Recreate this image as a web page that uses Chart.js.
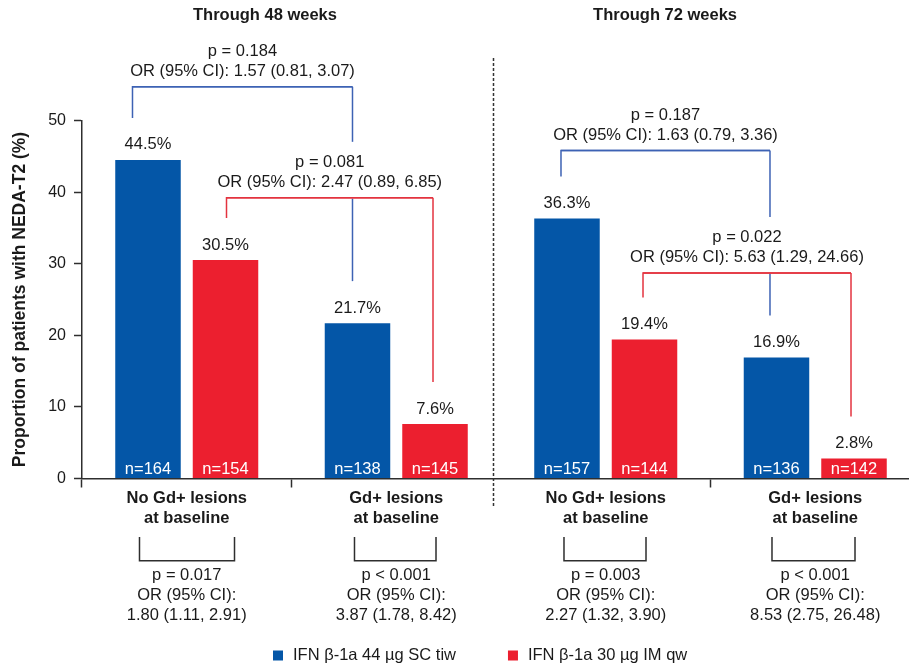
<!DOCTYPE html>
<html>
<head>
<meta charset="utf-8">
<script src="https://cdn.jsdelivr.net/npm/chart.js@4/dist/chart.umd.min.js"></script>
<style>
  html, body { margin: 0; padding: 0; background: #fff; }
  #c { display: block; }
</style>
</head>
<body>
<canvas id="c" width="909" height="667"></canvas>
<script>
// ---- Data ----
const groups = [
  ['No Gd+ lesions', 'at baseline'],
  ['Gd+ lesions', 'at baseline'],
  ['No Gd+ lesions', 'at baseline'],
  ['Gd+ lesions', 'at baseline']
];
const periods = ['Through 48 weeks', 'Through 72 weeks'];
const treatments = ['IFN β-1a 44 µg SC tiw', 'IFN β-1a 30 µg IM qw'];
const sc44Values = [44.5, 21.7, 36.3, 16.9];
const im30Values = [30.5, 7.6, 19.4, 2.8];
const sc44N = [164, 138, 157, 136];
const im30N = [154, 145, 144, 142];
const yTicks = [0, 10, 20, 30, 40, 50];

// SC vs IM within each baseline group
const withinP = ['p = 0.017', 'p < 0.001', 'p = 0.003', 'p < 0.001'];
const withinOR = ['1.80 (1.11, 2.91)', '3.87 (1.78, 8.42)', '2.27 (1.32, 3.90)', '8.53 (2.75, 26.48)'];

// No Gd+ vs Gd+ for each treatment and period
const acrossP = ['p = 0.184', 'p = 0.081', 'p = 0.187', 'p = 0.022'];
const acrossOR = ['OR (95% CI): 1.57 (0.81, 3.07)', 'OR (95% CI): 2.47 (0.89, 6.85)',
                  'OR (95% CI): 1.63 (0.79, 3.36)', 'OR (95% CI): 5.63 (1.29, 24.66)'];

// ---- Styling / layout ----
const FONT = '"Liberation Sans", Arial, Helvetica, sans-serif';
const INK = '#1a1a1a';
const AXIS = '#2e2e2e';
const BLUE = '#0456a7';
const RED = '#ec1f2f';
const BLUE_LINE = '#3d62b4';
const RED_LINE = '#e3333f';

// bracket definitions: dataset, from group, to group, level (y units), leg x nudges (px)
const acrossLayout = [
  { ds: 0, from: 0, to: 1, level: 54.7, dx: [-15.5, -5] },
  { ds: 1, from: 0, to: 1, level: 39.2, dx: [1, -2] },
  { ds: 0, from: 2, to: 3, level: 45.8, dx: [-6, -6.5] },
  { ds: 1, from: 2, to: 3, level: 28.7, dx: [-1.5, -3] }
];
const withinLegExt = [[8.5, 9], [3, 1], [3, 1.5], [4.5, 1]];
const periodTitleX = [1.3735, 3.283];
const dividerX = 2.462;
const LEG_GAP = 42;      // space between a bracket leg and its bar top
const TEXT_BLOCK = 56;   // height reserved above a bracket for its two text lines

function stroke(ctx, pts, color, w) {
  ctx.beginPath();
  ctx.moveTo(pts[0][0], pts[0][1]);
  for (let i = 1; i < pts.length; i++) ctx.lineTo(pts[i][0], pts[i][1]);
  ctx.strokeStyle = color;
  ctx.lineWidth = w;
  ctx.stroke();
}

const annotate = {
  id: 'annotate',
  afterDraw(chart) {
    const { ctx, chartArea } = chart;
    const xs = chart.scales.x, ys = chart.scales.y;
    const metas = [chart.getDatasetMeta(0), chart.getDatasetMeta(1)];
    ctx.save();
    ctx.textAlign = 'center';
    ctx.textBaseline = 'middle';

    // value labels and sample sizes
    chart.data.datasets.forEach((ds, d) => {
      metas[d].data.forEach((bar, i) => {
        ctx.font = `16.5px ${FONT}`;
        ctx.fillStyle = INK;
        ctx.fillText(ds.data[i].y.toFixed(1) + '%', bar.x, bar.y - 15);
        ctx.fillStyle = '#ffffff';
        ctx.fillText('n=' + ds.counts[i], bar.x, chartArea.bottom - 9.5);
      });
    });

    // period titles
    ctx.font = `bold 16.5px ${FONT}`;
    ctx.fillStyle = INK;
    periods.forEach((t, k) => ctx.fillText(t, xs.getPixelForValue(periodTitleX[k]), 15));

    // dashed divider between periods
    ctx.save();
    ctx.setLineDash([3, 2]);
    const dx = Math.round(xs.getPixelForValue(dividerX)) + 0.5;
    stroke(ctx, [[dx, 58], [dx, 507]], '#333', 1.5);
    ctx.restore();

    // across-group brackets
    const geo = acrossLayout.map((b) => {
      const meta = metas[b.ds];
      const a = meta.data[b.from], c = meta.data[b.to];
      return {
        b, a, c,
        yl: ys.getPixelForValue(b.level),
        x1: a.x + b.dx[0],
        x2: c.x + b.dx[1]
      };
    });
    geo.forEach((g, k) => {
      const col = g.b.ds === 0 ? BLUE_LINE : RED_LINE;
      stroke(ctx, [[g.x1, g.a.y - LEG_GAP], [g.x1, g.yl], [g.x2, g.yl]], col, 1.5);
      // right leg, interrupted where a lower bracket's text block crosses it
      const cut = geo.find((o, j) => j !== k && o.yl > g.yl && g.x2 > o.x1 && g.x2 < o.x2);
      const bottom = g.c.y - LEG_GAP;
      if (cut) {
        stroke(ctx, [[g.x2, g.yl], [g.x2, cut.yl - TEXT_BLOCK]], col, 1.5);
        stroke(ctx, [[g.x2, cut.yl + 0.75], [g.x2, bottom]], col, 1.5);
      } else {
        stroke(ctx, [[g.x2, g.yl], [g.x2, bottom]], col, 1.5);
      }
    });
    // redraw horizontals on top so crossings look clean
    geo.forEach((g) => {
      const col = g.b.ds === 0 ? BLUE_LINE : RED_LINE;
      stroke(ctx, [[g.x1, g.yl], [g.x2, g.yl]], col, 1.5);
    });
    geo.forEach((g, k) => {
      const cx = (g.x1 + g.x2) / 2;
      ctx.font = `16.5px ${FONT}`;
      ctx.fillStyle = INK;
      ctx.fillText(acrossP[k], cx, g.yl - 35.5);
      ctx.fillText(acrossOR[k], cx, g.yl - 15.5);
    });

    // within-group brackets below the axis
    const b0 = chartArea.bottom;
    groups.forEach((grp, i) => {
      const xl = metas[0].data[i].x - withinLegExt[i][0];
      const xr = metas[1].data[i].x + withinLegExt[i][1];
      stroke(ctx, [[xl, b0 + 58.5], [xl, b0 + 82.2], [xr, b0 + 82.2], [xr, b0 + 58.5]], AXIS, 1.5);
      const cx = xs.getPixelForValue(i + 1);
      ctx.font = `16.5px ${FONT}`;
      ctx.fillStyle = INK;
      ctx.fillText(withinP[i], cx, b0 + 96.5);
      ctx.fillText('OR (95% CI):', cx, b0 + 116.5);
      ctx.fillText(withinOR[i], cx, b0 + 136.5);
    });

    // legend
    ctx.textAlign = 'left';
    ctx.font = `16.5px ${FONT}`;
    let lx = 273;
    chart.data.datasets.forEach((ds) => {
      ctx.fillStyle = ds.backgroundColor;
      ctx.fillRect(lx, 650.5, 10, 10);
      ctx.fillStyle = INK;
      ctx.fillText(ds.label, lx + 20, 655.5);
      lx += 20 + ctx.measureText(ds.label).width + 52;
    });
    ctx.restore();
  }
};

new Chart(document.getElementById('c'), {
  type: 'bar',
  data: {
    datasets: [
      {
        label: treatments[0],
        data: sc44Values.map((v, i) => ({ x: i + 1, y: v })),
        counts: sc44N,
        backgroundColor: BLUE,
        categoryPercentage: 0.74,
        barPercentage: 0.845
      },
      {
        label: treatments[1],
        data: im30Values.map((v, i) => ({ x: i + 1, y: v })),
        counts: im30N,
        backgroundColor: RED,
        categoryPercentage: 0.74,
        barPercentage: 0.845
      }
    ]
  },
  options: {
    responsive: false,
    devicePixelRatio: 1,
    animation: false,
    layout: { padding: { top: 120.5, left: 0, right: 0, bottom: 0 } },
    plugins: { legend: { display: false }, tooltip: { enabled: false } },
    scales: {
      x: {
        type: 'linear',
        offset: false,
        min: 0.5,
        max: 4.4475,
        afterBuildTicks: (s) => { s.ticks = groups.map((g, i) => ({ value: i + 1 })); },
        afterFit: (s) => { s.height = 188.5; },
        border: { display: true, color: AXIS, width: 1.5 },
        grid: {
          display: true,
          offset: true,
          drawOnChartArea: false,
          drawTicks: true,
          tickLength: 9,
          tickWidth: 1.5,
          tickColor: (c) => (c.index === 0 || c.index === 1 || c.index === 3) ? AXIS : 'rgba(0,0,0,0)'
        },
        ticks: {
          autoSkip: false,
          maxRotation: 0,
          padding: 1,
          color: INK,
          font: { family: FONT, size: 16.5, weight: 'bold', lineHeight: 20 / 16.5 },
          callback: (v) => groups[Math.round(v) - 1]
        }
      },
      y: {
        min: 0,
        max: 50,
        afterBuildTicks: (s) => { s.ticks = yTicks.map((v) => ({ value: v })); },
        afterFit: (s) => { s.width = 82; },
        border: { display: true, color: AXIS, width: 1.5 },
        grid: {
          display: true,
          drawOnChartArea: false,
          drawTicks: true,
          tickLength: 8,
          tickWidth: 1.5,
          tickColor: AXIS
        },
        ticks: { color: INK, padding: 8, font: { family: FONT, size: 16 } },
        title: {
          display: true,
          text: 'Proportion of patients with NEDA-T2 (%)',
          color: INK,
          font: { family: FONT, size: 17.5, weight: 'bold' },
          padding: { top: 9.5, bottom: 0 }
        }
      }
    }
  },
  plugins: [annotate]
});
</script>
</body>
</html>
